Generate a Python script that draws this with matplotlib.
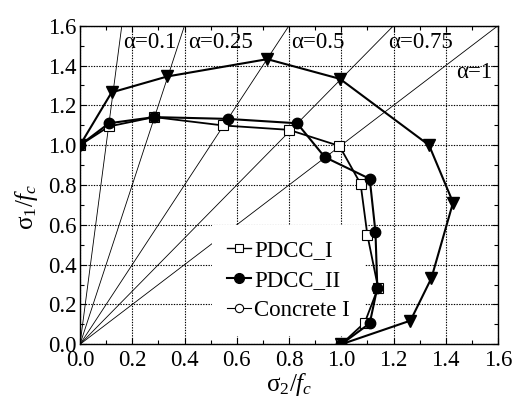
import matplotlib
matplotlib.use("Agg")
import matplotlib.pyplot as plt
from matplotlib.lines import Line2D
import numpy as np

plt.rcParams['font.family'] = ['Liberation Serif', 'DejaVu Serif']
plt.rcParams['mathtext.fontset'] = 'custom'
plt.rcParams['mathtext.rm'] = 'Liberation Serif'
plt.rcParams['mathtext.it'] = 'Liberation Serif:italic'

# Data (sigma2/fc, sigma1/fc)
tri_x = [0.0, 0.121, 0.334, 0.717, 0.995, 1.336, 1.428, 1.345, 1.265, 1.0]
tri_y = [1.0, 1.265, 1.345, 1.432, 1.333, 1.0, 0.712, 0.332, 0.119, 0.0]

pdcc1_x = [0.0, 0.111, 0.284, 0.548, 0.80, 0.993, 1.074, 1.10, 1.141, 1.09, 1.0]
pdcc1_y = [1.0, 1.094, 1.141, 1.099, 1.077, 0.996, 0.806, 0.549, 0.284, 0.109, 0.0]

pdcc2_x = [0.0, 0.111, 0.284, 0.565, 0.831, 0.937, 1.109, 1.131, 1.138, 1.109, 1.0]
pdcc2_y = [1.0, 1.11, 1.141, 1.132, 1.11, 0.94, 0.831, 0.563, 0.284, 0.105, 0.0]

conc_x = [0.0, 1.0]
conc_y = [1.0, 0.0]

alphas = [0.1, 0.25, 0.5, 0.75, 1.0]
alpha_labels = ['α=0.1', 'α=0.25', 'α=0.5', 'α=0.75', 'α=1']
alpha_label_x = [0.165, 0.413, 0.81, 1.178, 1.44]
alpha_label_y = [1.514, 1.514, 1.514, 1.514, 1.363]

xticks = [0.0, 0.2, 0.4, 0.6, 0.8, 1.0, 1.2, 1.4, 1.6]
yticks = [0.0, 0.2, 0.4, 0.6, 0.8, 1.0, 1.2, 1.4, 1.6]

fig = plt.figure(figsize=(5.18, 3.99), dpi=100)
ax = fig.add_axes([80/518, (399-344.3)/399, 418/518, 318.6/399])
ax.set_xlim(0, 1.6)
ax.set_ylim(0, 1.6)

ax.grid(True, which='major', linestyle=(0, (1.2, 1.2)), color='black', linewidth=0.8, zorder=0)
ax.set_axisbelow(True)

# alpha lines sigma1 = sigma2/alpha
for a in alphas:
    xs = np.array([0.0, 1.6])
    ys = xs / a
    ax.plot(xs, ys, color='black', linewidth=0.6, zorder=1)

for lx, ly, lab in zip(alpha_label_x, alpha_label_y, alpha_labels):
    ax.text(lx, ly, lab, fontsize=16.5, ha='left', va='center', zorder=3)

ax.plot(conc_x, conc_y, linestyle='none', marker='o', markersize=6,
        markerfacecolor='white', markeredgecolor='black', markeredgewidth=0.8, zorder=2)
ax.plot(tri_x, tri_y, color='black', linewidth=1.5, marker='v', markersize=8.5,
        markerfacecolor='black', zorder=4)
ax.plot(pdcc1_x, pdcc1_y, color='black', linewidth=1.3, marker='s', markersize=6.5,
        markerfacecolor='white', markeredgecolor='black', markeredgewidth=0.8, zorder=4)
ax.plot(pdcc2_x, pdcc2_y, color='black', linewidth=1.5, marker='o', markersize=7.5,
        markerfacecolor='black', zorder=5)

h1 = Line2D([], [], color='black', lw=1.0, marker='s', markersize=6, markerfacecolor='white', markeredgewidth=0.8)
h2 = Line2D([], [], color='black', lw=1.5, marker='o', markersize=7, markerfacecolor='black')
h3 = Line2D([], [], color='black', lw=0.8, marker='o', markersize=6, markerfacecolor='white', markeredgewidth=0.8)
leg = ax.legend([h1, h2, h3], ['PDCC_I', 'PDCC_II', 'Concrete I'], loc='upper left',
                bbox_to_anchor=((212-80)/418, (344.3-225)/318.6), fontsize=16.5,
                frameon=True, fancybox=False, framealpha=1, edgecolor='none', facecolor='white',
                handlelength=1.05, handletextpad=0.15, labelspacing=0.40, borderpad=0.64, borderaxespad=0)
leg.set_zorder(3)

ax.set_xticks(xticks)
ax.set_yticks(yticks)
ax.set_xticklabels([f'{v:.1f}' for v in xticks])
ax.set_yticklabels([f'{v:.1f}' for v in yticks])
ax.set_xticks(np.arange(0.1, 1.6, 0.2), minor=True)
ax.set_yticks(np.arange(0.1, 1.6, 0.2), minor=True)
ax.tick_params(which='both', direction='in', top=True, right=True, labelsize=16.5)
ax.tick_params(which='major', length=4, width=0.8)
ax.tick_params(which='minor', length=3, width=0.8)
ax.tick_params(axis='x', pad=4)
ax.tick_params(axis='y', pad=2.5)
for s in ax.spines.values():
    s.set_linewidth(1.0)

ax.set_xlabel(r'$\mathrm{σ}_2/f_c$', fontsize=18)
ax.set_ylabel(r'$\mathrm{σ}_1/f_c$', fontsize=18)
ax.xaxis.set_label_coords(0.5, (344.3-371)/318.6)
ax.yaxis.set_label_coords((40-80)/418, (344.3-207)/318.6)

fig.savefig('out.png', dpi=100)
